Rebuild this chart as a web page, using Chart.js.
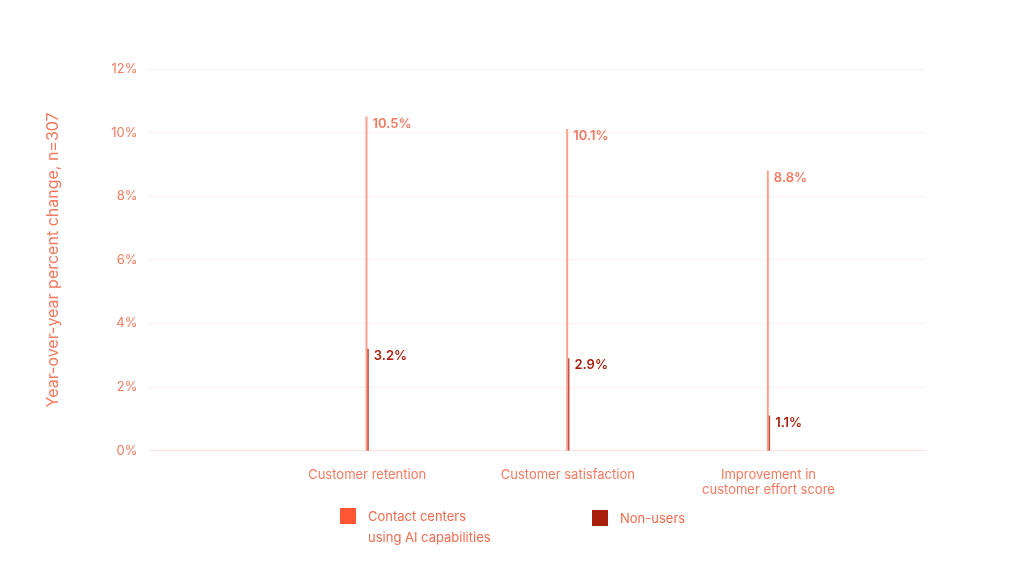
<!DOCTYPE html>
<html><head><meta charset="utf-8">
<script src="https://cdn.jsdelivr.net/npm/chart.js@4"></script>
<style>
body{margin:0;background:#fff;font-family:Inter,Lato,sans-serif;}
#wrap{position:relative;width:1024px;height:585px;}
.leg{position:absolute;font-size:13px;color:#F26B4E;line-height:21px;}
.sw{position:absolute;width:16px;height:16px;}
</style></head><body>
<div id="wrap"><canvas id="c" width="1024" height="585"></canvas>
<div class="sw" style="left:340px;top:508px;background:#FF5733"></div>
<div class="leg" style="left:368px;top:506px">Contact centers<br>using AI capabilities</div>
<div class="sw" style="left:592px;top:510px;background:#A81F0B"></div>
<div class="leg" style="left:620px;top:508px">Non-users</div>
</div>
<script>
const categories=["Customer retention","Customer satisfaction",["Improvement in","customer effort score"]];
const aiUsers=[10.5,10.1,8.8];
const nonUsers=[3.2,2.9,1.1];
const yTicks=[0,2,4,6,8,10,12];
const salmon='#F47A5F', dark='#A81F0B';
const labelPlugin={id:'lbl',afterDatasetsDraw(ch){const ctx=ch.ctx;ctx.save();ctx.font='600 13px Inter, sans-serif';ctx.textBaseline='middle';
ch.data.datasets.forEach((ds,i)=>{ctx.fillStyle=i?dark:salmon;ch.getDatasetMeta(i).data.forEach((b,j)=>{ctx.fillText(ds.data[j].y.toFixed(1)+'%',b.x+6,b.y+7);});});ctx.restore();}};
new Chart(document.getElementById('c'),{type:'bar',
data:{datasets:[
{label:'Contact centers using AI capabilities',data:aiUsers.map((v,i)=>({x:i+1,y:v})),backgroundColor:'#FFA088',barThickness:1.3},
{label:'Non-users',data:nonUsers.map((v,i)=>({x:i+1,y:v})),backgroundColor:'#B5483A',barThickness:1.3}]},
options:{responsive:false,animation:false,categoryPercentage:0.56,
layout:{padding:{left:40,right:99,top:69,bottom:79}},
plugins:{legend:{display:false},tooltip:{enabled:false}},
scales:{
x:{type:'linear',offset:false,min:-0.085,max:3.78,afterBuildTicks:a=>{a.ticks=[1,2,3].map(v=>({value:v}));},
 ticks:{callback:v=>categories[v-1],color:salmon,font:{size:13,family:'Inter'},maxRotation:0,padding:8},
 grid:{display:false,offset:false},border:{color:'#FCE3DC'}},
y:{min:0,max:12,afterBuildTicks:a=>{a.ticks=yTicks.map(v=>({value:v}));},
 ticks:{callback:v=>v+'%',color:salmon,font:{size:13,family:'Inter'},padding:12},
 grid:{color:'#FDF0EC',drawTicks:false},border:{display:false},
 title:{display:true,text:'Year-over-year percent change, n=307',color:salmon,font:{size:16,family:'Inter'},padding:{bottom:36}}}}},
plugins:[labelPlugin]});
</script></body></html>
